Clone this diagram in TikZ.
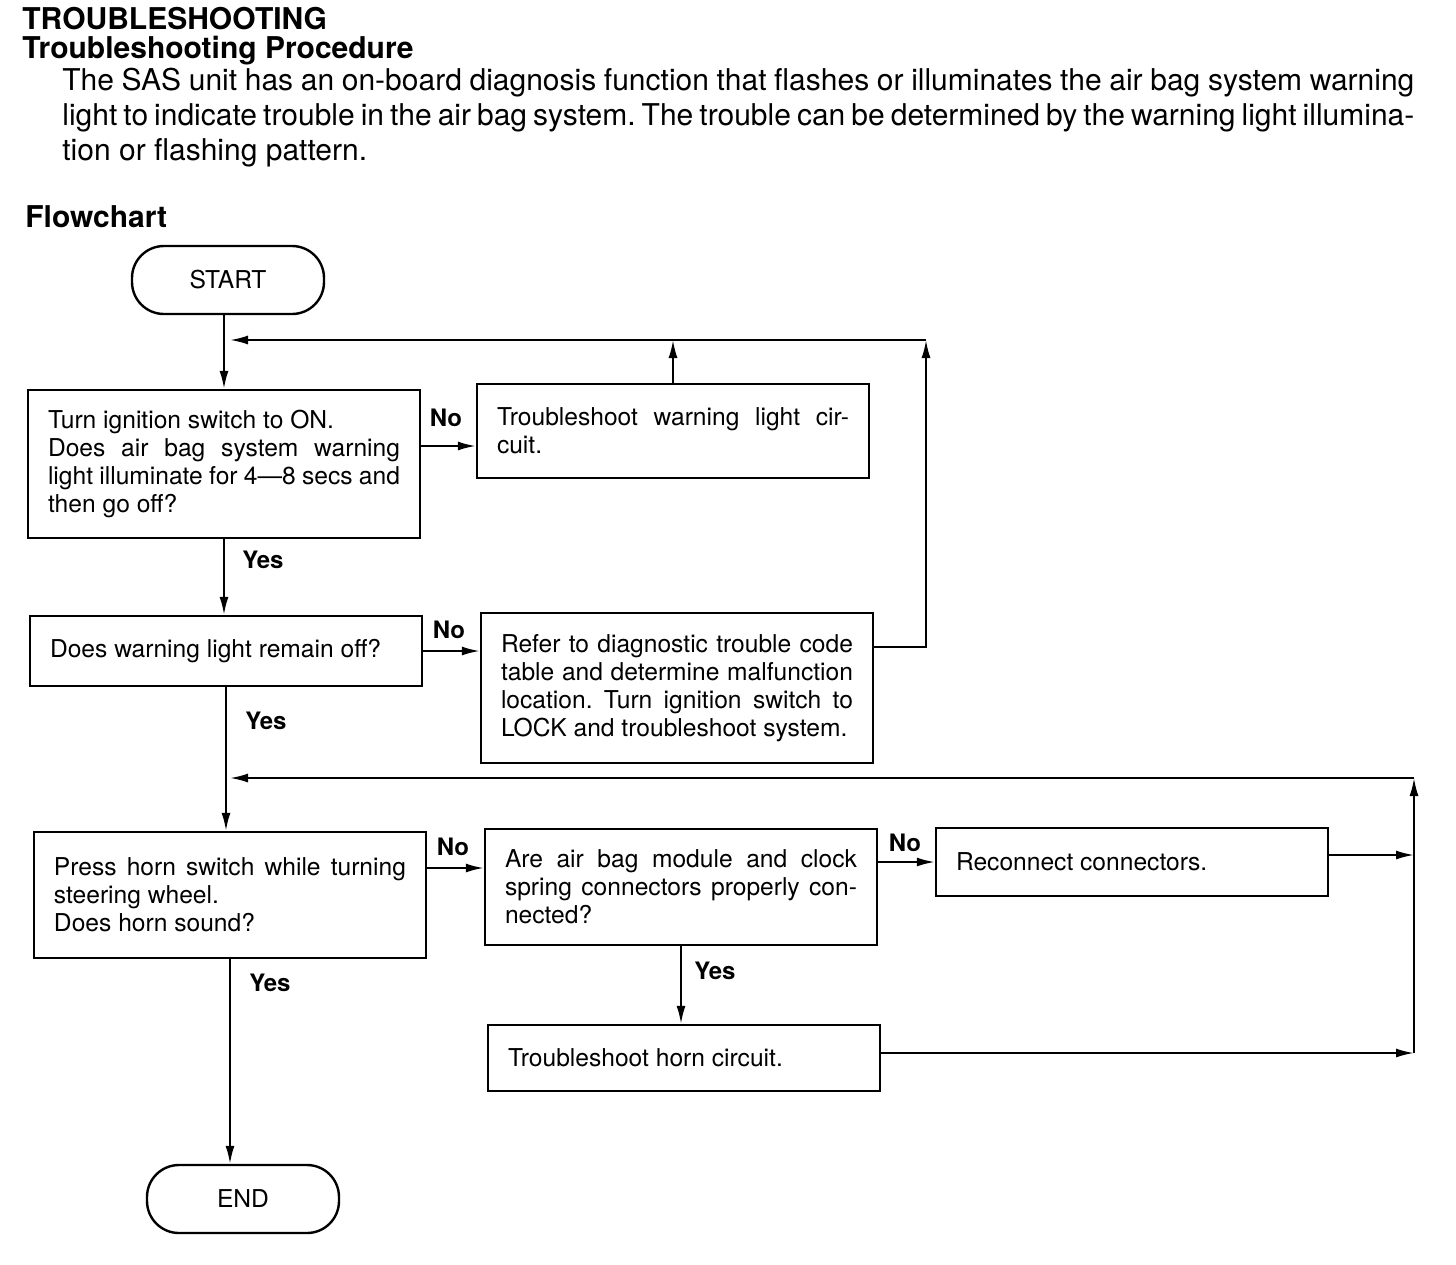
\documentclass[tikz,border=0pt]{standalone}
\usepackage{fontspec}
\setmainfont{TeX Gyre Heros}
\usetikzlibrary{arrows.meta,calc}
\tolerance=10000
\hbadness=10000
\frenchspacing

\begin{document}
\begin{tikzpicture}[x=0.5pt,y=-0.5pt,
    box/.style={draw, line width=1.2pt, inner sep=0pt, minimum width=196pt,
      text width=176pt, align=justify, font=\fontsize{12.3}{14}\selectfont},
    term/.style={draw, line width=1.2pt, rounded corners=16pt, minimum width=96pt,
      minimum height=34pt, font=\fontsize{12.3}{14}\selectfont},
    lbl/.style={font=\bfseries\fontsize{12}{14}\selectfont},
    head/.style={anchor=base west, inner sep=0pt, font=\bfseries\fontsize{15}{18}\selectfont},
    txt/.style={anchor=base west, inner sep=0pt, font=\fontsize{15}{17}\selectfont},
    >={Latex[length=9pt,width=4.5pt]}]

  \path[fill=white] (0,0) rectangle (1456,1264);

  % Kopf
  \node[head] (title) at (22,29) {TROUBLESHOOTING};
  \node[head] (proc) at (22,58) {Troubleshooting Procedure};
  \node[txt] (l1) at (62,90) {\makebox[676pt][s]{The SAS unit has an on-board diagnosis function that flashes or illuminates the air bag system warning}};
  \node[txt] (l2) at (62,125) {\makebox[676pt][s]{light to indicate trouble in the air bag system. The trouble can be determined by the warning light illumina-}};
  \node[txt] (l3) at (62,160) {tion or flashing pattern.};
  \node[head] (flow) at (25,227) {Flowchart};

  % Kaesten
  \node[term] (start) at (228,280) {START};
  \node[box, minimum height=74pt] (b1) at (224,464) {Turn ignition switch to ON.\\ Does air bag system warning\linebreak light illuminate for 4---8 secs and\linebreak then go off?};
  \node[box, minimum height=47pt] (b2) at (673,431) {Troubleshoot warning light cir-\linebreak cuit.};
  \node[box, minimum height=35pt] (b3) at (226,651) {Does warning light remain off?};
  \node[box, minimum height=75pt] (b4) at (677,688) {Refer to diagnostic trouble code\linebreak table and determine malfunction\linebreak location. Turn ignition switch to\linebreak LOCK and troubleshoot system.};
  \node[box, minimum height=63pt] (b5) at (230,895) {Press horn switch while turning\linebreak steering wheel.\\ Does horn sound?};
  \node[box, minimum height=58pt] (b6) at (681,887) {Are air bag module and clock\linebreak spring connectors properly con-\linebreak nected?};
  \node[box, minimum height=34pt] (b7) at (1132,862) {Reconnect connectors.};
  \node[box, minimum height=33pt] (b8) at (684,1058) {Troubleshoot horn circuit.};
  \node[term] (end) at (243,1199) {END};

  \coordinate (top) at (926,340);
  \coordinate (right) at (1414,778);

  % Pfeile
  \begin{scope}[line width=1pt]
    \draw[->] (b1.north |- start.south) -- (b1.north);
    \draw[->] (b1.east |- 0,446) -- (b2.west |- 0,446);
    \draw[->] (b2.north) -- (b2.north |- top);
    \draw[->] (b4.east |- 0,647) -| (top);
    \draw[->] (top) -- ($(b1.north |- top)+(6,0)$);
    \draw[->] (b1.south) -- (b1.south |- b3.north);
    \draw[->] (b3.east) -- (b3.east -| b4.west);
    \draw[->] (b3.south) -- (b3.south |- b5.north);
    \draw[->] (b5.east |- 0,868) -- (b6.west |- 0,868);
    \draw[->] (b6.east |- b7) -- (b7.west);
    \draw[->] (b6.south) -- (b6.south |- b8.north);
    \draw[->] (b7.east |- 0,855) -- (right |- 0,855);
    \draw[->] (b8.east |- 0,1053) -- (right |- 0,1053);
    \draw[->] (right |- 0,1053) -- (right);
    \draw[->] (right) -- ($(b3.south |- right)+(4,0)$);
    \draw[->] (b5.south) -- (b5.south |- end.north);
  \end{scope}

  \node[lbl] (no1) at (446,418) {No};
  \node[lbl] (yes1) at (263,560) {Yes};
  \node[lbl] (no2) at (449,630) {No};
  \node[lbl] (yes2) at (266,721) {Yes};
  \node[lbl] (no3) at (453,847) {No};
  \node[lbl] (no4) at (905,843) {No};
  \node[lbl] (yes3) at (715,971) {Yes};
  \node[lbl] (yes4) at (270,983) {Yes};

\end{tikzpicture}
\end{document}
